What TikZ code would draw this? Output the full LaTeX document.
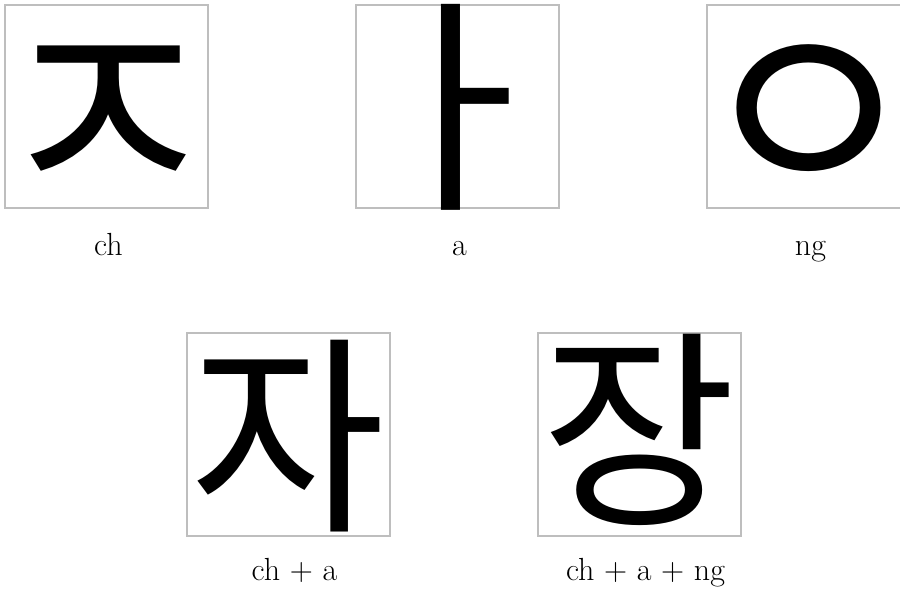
\documentclass[tikz,border=0pt]{standalone}
\usepackage{fontspec}
\usepackage{tikz}
\usetikzlibrary{positioning}
\newfontfamily\hangulfont{Noto Sans CJK KR}
\definecolor{boxgray}{RGB}{190,190,190}
\newcommand{\inkbox}[1]{\makebox[0.7em]{#1}}

\begin{document}
\begin{tikzpicture}[x=1pt, y=-1pt,
    jamobox/.style={draw=boxgray, line width=1.5pt, minimum size=203pt, inner sep=0pt},
    jamo/.style={inner sep=0pt, text height=199pt, text depth=5pt,
                 font=\hangulfont\fontsize{255}{255}\selectfont},
    syllable/.style={inner sep=0pt, text height=165pt, text depth=4pt,
                 font=\hangulfont\fontsize{212}{212}\selectfont},
    lbl/.style={inner sep=0pt, font=\fontsize{32}{36}\selectfont}
  ]
  \path[use as bounding box, clip] (0,0) rectangle (900,592);

  % ===== Single letters (top row) =====
  \node[jamobox] (box-ch) at (106.5,106.5) {};
  \node[jamobox] (box-a)  at (457.5,106.5) {};
  \node[jamobox] (box-ng) at (808.5,106.5) {};
  \node[jamo, yshift=-1pt] (g-ch) at (box-ch.center) {\inkbox{ㅈ}};
  \node[jamo, yshift=3pt, text height=181pt, text depth=4pt,
        font=\hangulfont\fontsize{232}{232}\selectfont] (g-a) at (box-a.center) {\inkbox{ㅏ}};
  \node[jamo, yshift=-1pt] (g-ng) at (box-ng.center) {\inkbox{ㅇ}};
  \node[lbl, below=47pt of box-ch, anchor=base, xshift=2pt] (l-ch) {ch};
  \node[lbl, below=47pt of box-a,  anchor=base, xshift=2pt] (l-a)  {a};
  \node[lbl, below=47pt of box-ng, anchor=base, xshift=2pt] (l-ng) {ng};

  % ===== Combined syllables (bottom row) =====
  \node[jamobox] (box-cha)   at (288.5,434.5) {};
  \node[jamobox] (box-chang) at (639.5,434.5) {};
  \node[syllable] (g-cha)   at (box-cha.center)   {\inkbox{자}};
  \node[syllable, yshift=6pt] (g-chang) at (box-chang.center) {\inkbox{장}};
  \node[lbl, below=44pt of box-cha,   anchor=base, xshift=6pt] (l-cha)   {ch + a};
  \node[lbl, below=44pt of box-chang, anchor=base, xshift=6pt] (l-chang) {ch + a + ng};
\end{tikzpicture}
\end{document}
